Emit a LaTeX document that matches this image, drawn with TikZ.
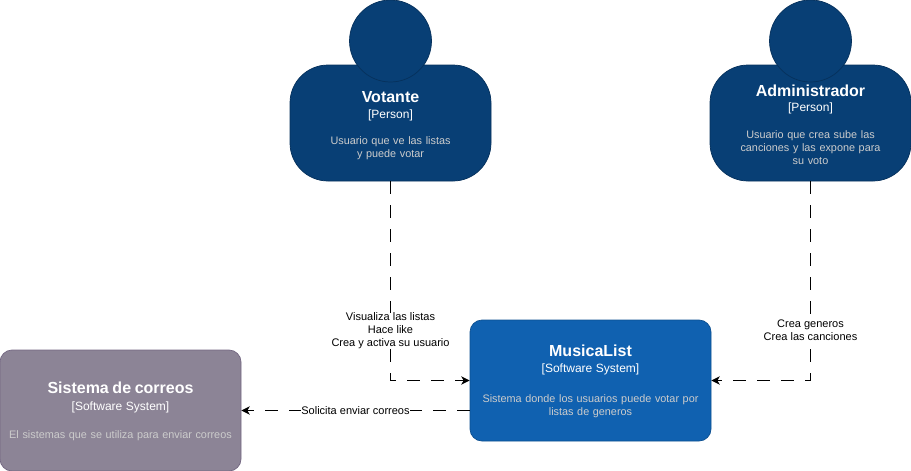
\documentclass[tikz,border=0pt]{standalone}
\usepackage{fontspec}
\setmainfont{Liberation Sans}
\usetikzlibrary{arrows.meta}
\definecolor{persona}{HTML}{083F75}
\definecolor{personaline}{HTML}{06315C}
\definecolor{sistema}{HTML}{1061B0}
\definecolor{sistemaline}{HTML}{0D5091}
\definecolor{correo}{HTML}{8C8496}
\definecolor{correoline}{HTML}{736782}
\definecolor{desc}{HTML}{CCCCCC}
\newcommand{\ttl}[2][0]{\rule{0pt}{\dimexpr 12pt+#1pt*2\relax}{\fontsize{16}{16}\selectfont\bfseries\color{white}#2}}
\newcommand{\kind}[1]{{\fontsize{12}{13}\selectfont\color{white}[#1]}}
\tikzset{
  box/.style={align=center,inner sep=0pt,line width=0.7pt,text width=235pt,
    font=\fontsize{10.85}{13}\selectfont,text=desc},
  personbody/.style={box,draw=personaline,fill=persona,minimum width=201pt,minimum height=116pt,rounded corners=38pt,text width=190pt},
  personhead/.style={circle,draw=personaline,fill=persona,line width=0.7pt,minimum size=82pt,inner sep=0pt},
  softsys/.style={box,draw=sistemaline,fill=sistema,minimum width=241pt,minimum height=121pt,rounded corners=12pt},
  mailsys/.style={box,draw=correoline,fill=correo,minimum width=241pt,minimum height=121pt,rounded corners=12pt},
  rel/.style={draw=black,line width=0.9pt,dash pattern=on 12.7pt off 11.3pt,
    -{Stealth[length=8.5pt,width=8.5pt,inset=2.5pt]}},
  rellabel/.style={fill=white,inner sep=0pt,align=center,text=black,font=\fontsize{11}{13}\selectfont,solid}
}
\begin{document}
\begin{tikzpicture}[x=1pt,y=-1pt]
\useasboundingbox (0,0) rectangle (911,471);
\node[personbody] (votante) at (390.5,123) {\ttl[2.2]{Votante}\\[3pt]\kind{Person}\\[12.5pt]Usuario que ve las listas\\y puede votar};
\node[personhead] (votantehead) at (390.5,41) {};
\node[personbody] (admin) at (810.5,123) {\ttl[1.5]{Administrador}\\[2.5pt]\kind{Person}\\[13.5pt]Usuario que crea sube las\\canciones y las expone para\\su voto};
\node[personhead] (adminhead) at (810.5,41) {};
\node[softsys] (musica) at (590.5,380.5) {\ttl[1]{MusicaList}\\[3pt]\kind{Software System}\\[17pt]Sistema donde los usuarios puede votar por\\listas de generos};
\node[mailsys] (correos) at (120.5,410.5) {\ttl[0.8]{Sistema de correos}\\[3.5pt]\kind{Software System}\\[15.5pt]El sistemas que se utiliza para enviar correos};
\draw[rel] (votante.south) |- node[rellabel,pos=0.376] (l1) {Visualiza las listas\\Hace like\\Crea y activa su usuario} (musica.west);
\draw[rel] (admin.south) |- node[rellabel,pos=0.374] (l2) {Crea generos\\Crea las canciones} (musica.east);
\draw[rel] (musica.west |- correos.east) -- node[rellabel] (l3) {Solicita enviar correos} (correos.east);
\end{tikzpicture}
\end{document}
